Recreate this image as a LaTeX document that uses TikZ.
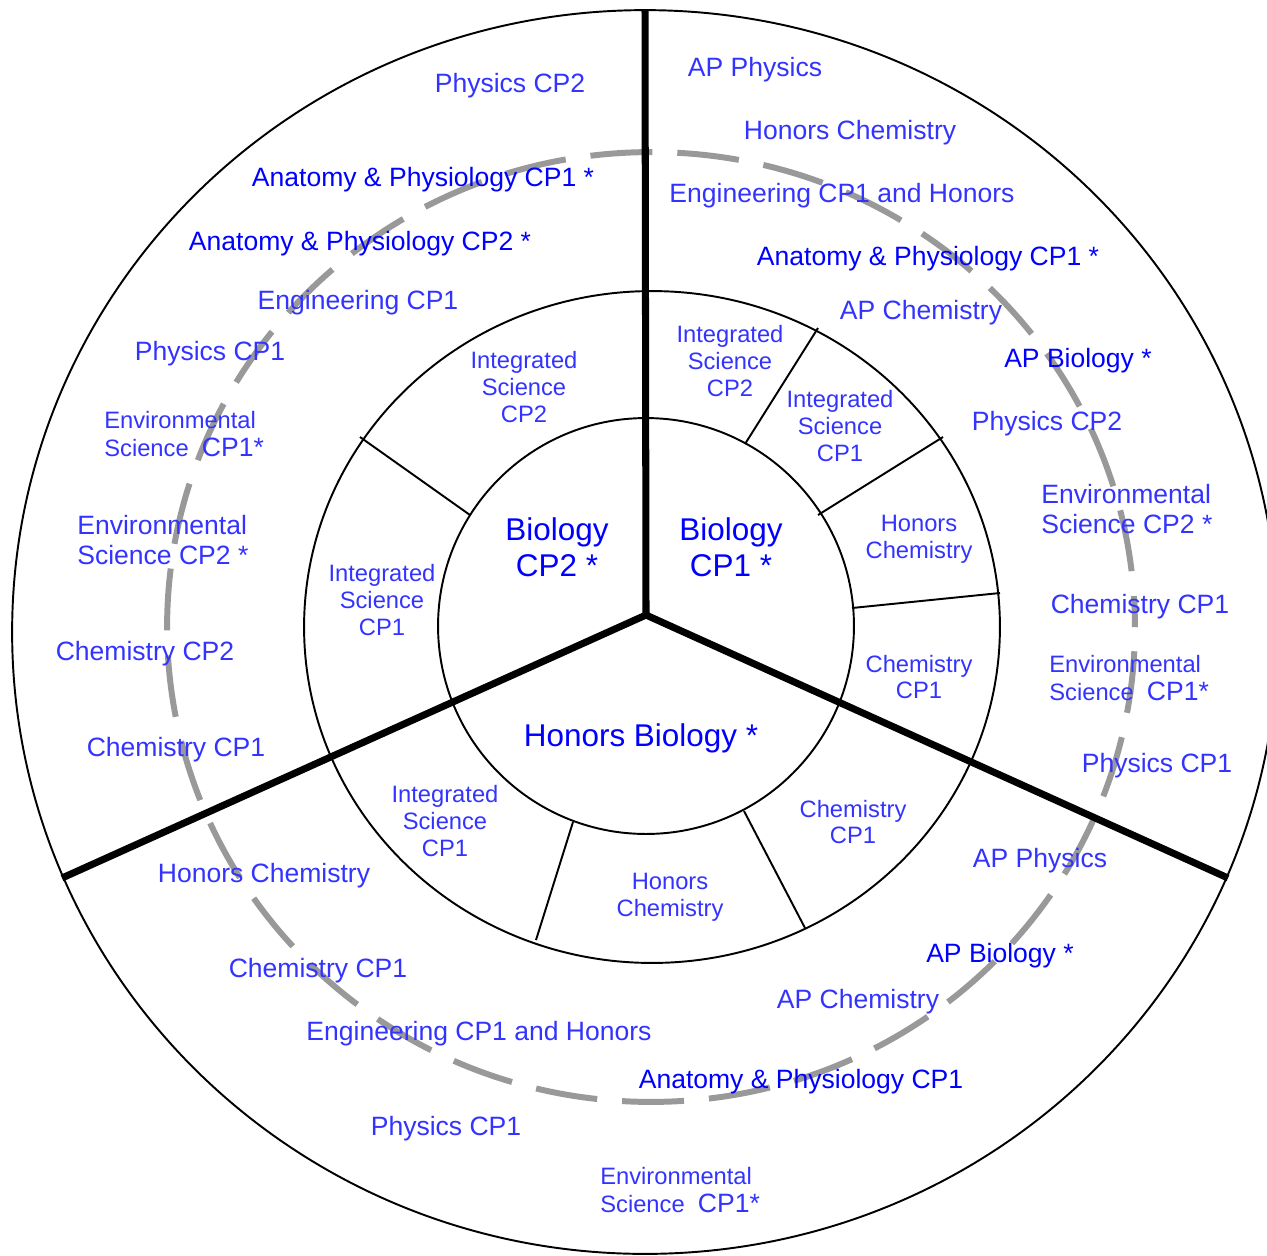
\documentclass[tikz,border=0pt]{standalone}
\usepackage{fontspec}
\setmainfont{Liberation Sans}
\definecolor{crsblue}{RGB}{51,51,255}
\definecolor{reqblue}{RGB}{0,0,255}
\definecolor{pathgray}{RGB}{153,153,153}
\newcommand{\cpstar}{{\fontsize{15.1}{16.4}\selectfont CP1*}}
\begin{document}
\begin{tikzpicture}[x=0.02cm,y=-0.02cm,
ring/.style={line width=1.1pt},
spoke/.style={line width=4pt},
divider/.style={line width=1.1pt},
track/.style={pathgray,line width=3.4pt,dash pattern=on 1.24cm off 0.5cm,dash phase=0.62cm},
core/.style={text=reqblue,align=center,inner sep=0pt,font=\fontsize{17.9}{20.4}\selectfont},
course/.style={text=crsblue,inner sep=0pt,font=\fontsize{15.1}{17}\selectfont},
req/.style={course,text=reqblue},
slot/.style={text=crsblue,align=center,inner sep=0pt,font=\fontsize{13.5}{15.3}\selectfont},
envsmall/.style={text=crsblue,align=left,anchor=west,inner sep=0pt,font=\fontsize{13.5}{16.4}\selectfont},
envbig/.style={course,align=left,anchor=west}]
\useasboundingbox (0,0) rectangle (1267,1255);
\clip (0,0) rectangle (1267,1255);
\draw[ring] (645,632) ellipse [x radius=12.66cm,y radius=12.44cm];
\draw[track] (651,627) ellipse [x radius=9.68cm,y radius=9.5cm];
\draw[ring] (652,627) ellipse [x radius=6.96cm,y radius=6.72cm];
\draw[ring] (646,626) circle [radius=4.16cm];
\coordinate (hub) at (646,615);
\coordinate (north) at (645,10);
\coordinate (southwest) at (62,878);
\coordinate (southeast) at (1228,878);
\draw[spoke] (hub)--(north); \draw[spoke] (hub)--(southwest); \draw[spoke] (hub)--(southeast);
\foreach \xa/\ya/\xb/\yb in {470/515/360/437,745/444/818/328,818/515/943/437,852/608/1000/593,573/822/536/940,744/811/805/928}
  \draw[divider] (\xa,\ya)--(\xb,\yb);
\node[core] (bio2) at (557,547) {Biology\\CP2 *};
\node[core] (bio1) at (731,547) {Biology\\CP1 *};
\node[core] (hbio) at (641,738) {Honors Biology *};
\node[slot] (isci2l) at (524,387) {Integrated\\Science\\CP2};
\node[slot] (isci1l) at (382,600) {Integrated\\Science\\CP1};
\node[slot] (isci2r) at (730,361) {Integrated\\Science\\CP2};
\node[slot] (isci1r) at (840,426) {Integrated\\Science\\CP1};
\node[slot] (hchemr) at (919,539) {Honors\\Chemistry};
\node[slot] (chem1r) at (919,677) {Chemistry\\CP1};
\node[slot] (isci1b) at (445,821) {Integrated\\Science\\CP1};
\node[slot] (hchemb) at (670,897) {Honors\\Chemistry};
\node[slot] (chem1b) at (853,822) {Chemistry\\CP1};
\node[course] (phys2a) at (510,86) {Physics CP2};
\node[req] (anat1a) at (423,180) {Anatomy \& Physiology CP1 *};
\node[req] (anat2a) at (360,244) {Anatomy \& Physiology CP2 *};
\node[course] (enga) at (358,303) {Engineering CP1};
\node[course] (phys1a) at (210,354) {Physics CP1};
\node[envsmall] (env1a) at (104,434) {Environmental\\Science~~\cpstar};
\node[envbig] (env2a) at (77,540) {Environmental\\Science CP2 *};
\node[course] (chem2a) at (145,654) {Chemistry CP2};
\node[course] (chem1a) at (176,750) {Chemistry CP1};
\node[course] (apphysb) at (755,70) {AP Physics};
\node[course] (hchemo) at (850,133) {Honors Chemistry};
\node[course] (engb) at (842,196) {Engineering CP1 and Honors};
\node[req] (anat1b) at (928,259) {Anatomy \& Physiology CP1 *};
\node[course] (apchemb) at (921,313) {AP Chemistry};
\node[req] (apbiob) at (1078,361) {AP Biology *};
\node[course] (phys2b) at (1047,424) {Physics CP2};
\node[envbig] (env2b) at (1041,509) {Environmental\\Science CP2 *};
\node[course] (chem1o) at (1140,607) {Chemistry CP1};
\node[envsmall] (env1b) at (1049,678) {Environmental\\Science~~\cpstar};
\node[course] (phys1b) at (1157,766) {Physics CP1};
\node[course] (apphysc) at (1040,861) {AP Physics};
\node[req] (apbioc) at (1000,956) {AP Biology *};
\node[course] (apchemc) at (858,1002) {AP Chemistry};
\node[req] (anatc) at (801,1082) {Anatomy \& Physiology CP1};
\node[envsmall] (env1c) at (600,1190) {Environmental\\Science~~\cpstar};
\node[course] (phys1c) at (446,1129) {Physics CP1};
\node[course] (engc) at (479,1034) {Engineering CP1 and Honors};
\node[course] (chem1c) at (318,971) {Chemistry CP1};
\node[course] (hchemc) at (264,876) {Honors Chemistry};
\end{tikzpicture}
\end{document}
